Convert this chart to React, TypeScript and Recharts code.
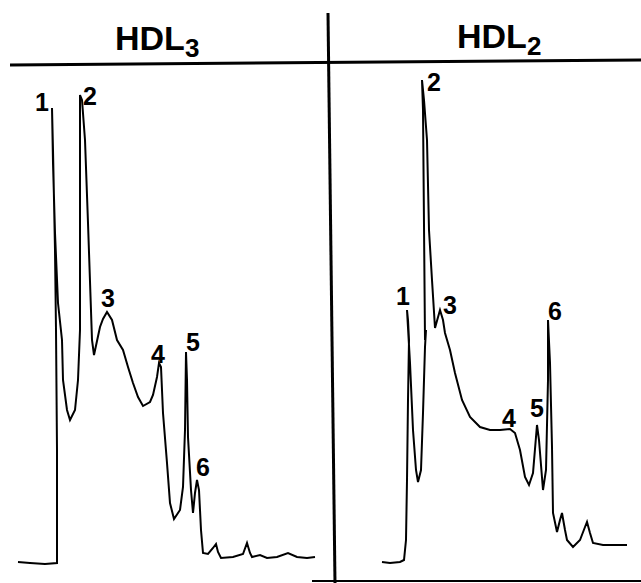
import { LineChart, Line, XAxis, YAxis, ReferenceLine, ReferenceDot } from "recharts";

// elution position (left to right) and detector signal above the recorder baseline
const hdl3Time = [
  18, 30, 45, 57, 57, 57, 56, 55, 53, 52, 53, 55, 58, 62, 63, 67, 70, 75, 78, 80, 80,
  82, 85, 88, 92, 94, 97, 100, 103, 107, 112, 117, 123, 128, 133, 138, 143, 150, 153,
  157, 159, 161, 163, 167, 170, 174, 180, 183, 185, 186, 187, 188, 191, 193, 195, 197,
  199, 201, 203, 208, 213, 216, 218, 221, 233, 243, 247, 250, 252, 260, 267, 277, 288,
  297, 307, 315,
];
const hdl3Signal = [
  1, 0, -1, 0, 18, 113, 233, 313, 413, 455, 400, 330, 260, 223, 183, 153, 143, 153, 183,
  233, 468, 463, 423, 340, 223, 208, 222, 236, 244, 251, 243, 223, 213, 196, 180, 166,
  157, 161, 168, 186, 200, 196, 150, 100, 60, 44, 53, 76, 133, 211, 183, 126, 73, 50,
  70, 83, 73, 33, 10, 9, 15, 19, 11, 5, 6, 9, 20, 10, 6, 8, 5, 6, 10, 6, 5, 6,
];

const hdl2Time = [
  382, 390, 400, 404, 406, 407, 408, 409, 408, 407, 410, 413, 416, 418, 421, 423, 425,
  426, 425, 423, 422, 424, 427, 429, 432, 435, 440, 443, 445, 450, 455, 462, 470, 480,
  490, 500, 510, 515, 520, 525, 529, 533, 537, 539, 543, 546, 548, 548, 548, 550, 552,
  553, 557, 560, 562, 565, 567, 573, 580, 585, 587, 590, 593, 603, 617, 627,
];
const hdl2Signal = [
  1, 0, 1, 3, 23, 83, 163, 223, 243, 253, 200, 133, 93, 81, 93, 150, 216, 233, 223,
  453, 483, 463, 423, 333, 283, 235, 253, 243, 230, 213, 190, 163, 146, 136, 133, 133,
  134, 130, 113, 86, 78, 90, 138, 123, 73, 93, 183, 233, 243, 200, 116, 50, 31, 43, 50,
  33, 23, 16, 23, 36, 41, 30, 20, 18, 18, 18,
];

const peakNames = ["1", "2", "3", "4", "5", "6"];
const hdl3LabelTime = [42, 90, 108, 158, 193, 203];
const hdl3LabelSignal = [461, 467, 265, 209, 221, 96];
const hdl2LabelTime = [403, 434, 450, 509, 537, 555];
const hdl2LabelSignal = [267, 481, 258, 145, 155, 252];

const hdl3 = hdl3Time.map((t, i) => ({ t, v: hdl3Signal[i] }));
const hdl2 = hdl2Time.map((t, i) => ({ t, v: hdl2Signal[i] }));
const labels = [
  ...peakNames.map((n, i) => ({ n, t: hdl3LabelTime[i], v: hdl3LabelSignal[i] })),
  ...peakNames.map((n, i) => ({ n, t: hdl2LabelTime[i], v: hdl2LabelSignal[i] })),
];

const FONT = "'Liberation Sans', Arial, sans-serif";

const header = (main: string, sub: string) => (props: any) => {
  const { x, y } = props.viewBox;
  return (
    <text x={x} y={y} fill="#000" fontFamily={FONT} fontSize={34} fontWeight="bold">
      {main}
      <tspan dy={7} fontSize={26}>
        {sub}
      </tspan>
    </text>
  );
};

export default function App() {
  return (
    <div style={{ position: "absolute", left: 0, top: 0, background: "#fff" }}>
      <LineChart width={641} height={583} margin={{ top: 0, right: 0, bottom: 0, left: 0 }}>
        <XAxis type="number" dataKey="t" domain={[0, 641]} hide />
        <YAxis type="number" domain={[-20, 563]} hide />
        <ReferenceLine
          segment={[{ x: 10, y: 498 }, { x: 641, y: 503 }]}
          stroke="#000"
          strokeWidth={3}
          ifOverflow="visible"
        />
        <ReferenceLine
          segment={[{ x: 328, y: 550 }, { x: 335, y: -20 }]}
          stroke="#000"
          strokeWidth={3}
          ifOverflow="visible"
        />
        <ReferenceLine
          segment={[{ x: 312, y: -18 }, { x: 641, y: -18 }]}
          stroke="#000"
          strokeWidth={2}
          ifOverflow="visible"
        />
        <Line
          data={hdl3}
          dataKey="v"
          type="linear"
          stroke="#000"
          strokeWidth={2}
          strokeLinecap="butt"
          dot={false}
          activeDot={false}
          isAnimationActive={false}
        />
        <Line
          data={hdl2}
          dataKey="v"
          type="linear"
          stroke="#000"
          strokeWidth={2}
          strokeLinecap="butt"
          dot={false}
          activeDot={false}
          isAnimationActive={false}
        />
        <ReferenceDot x={115} y={513} r={0} ifOverflow="visible" label={{ content: header("HDL", "3") }} />
        <ReferenceDot x={457} y={515} r={0} ifOverflow="visible" label={{ content: header("HDL", "2") }} />
        {labels.map((l, i) => (
          <ReferenceDot
            key={i}
            x={l.t}
            y={l.v}
            r={0}
            fill="none"
            stroke="none"
            ifOverflow="visible"
            label={{
              value: l.n,
              position: "center",
              fill: "#000",
              fontSize: 25,
              fontFamily: FONT,
              fontWeight: "bold",
            }}
          />
        ))}
      </LineChart>
    </div>
  );
}
